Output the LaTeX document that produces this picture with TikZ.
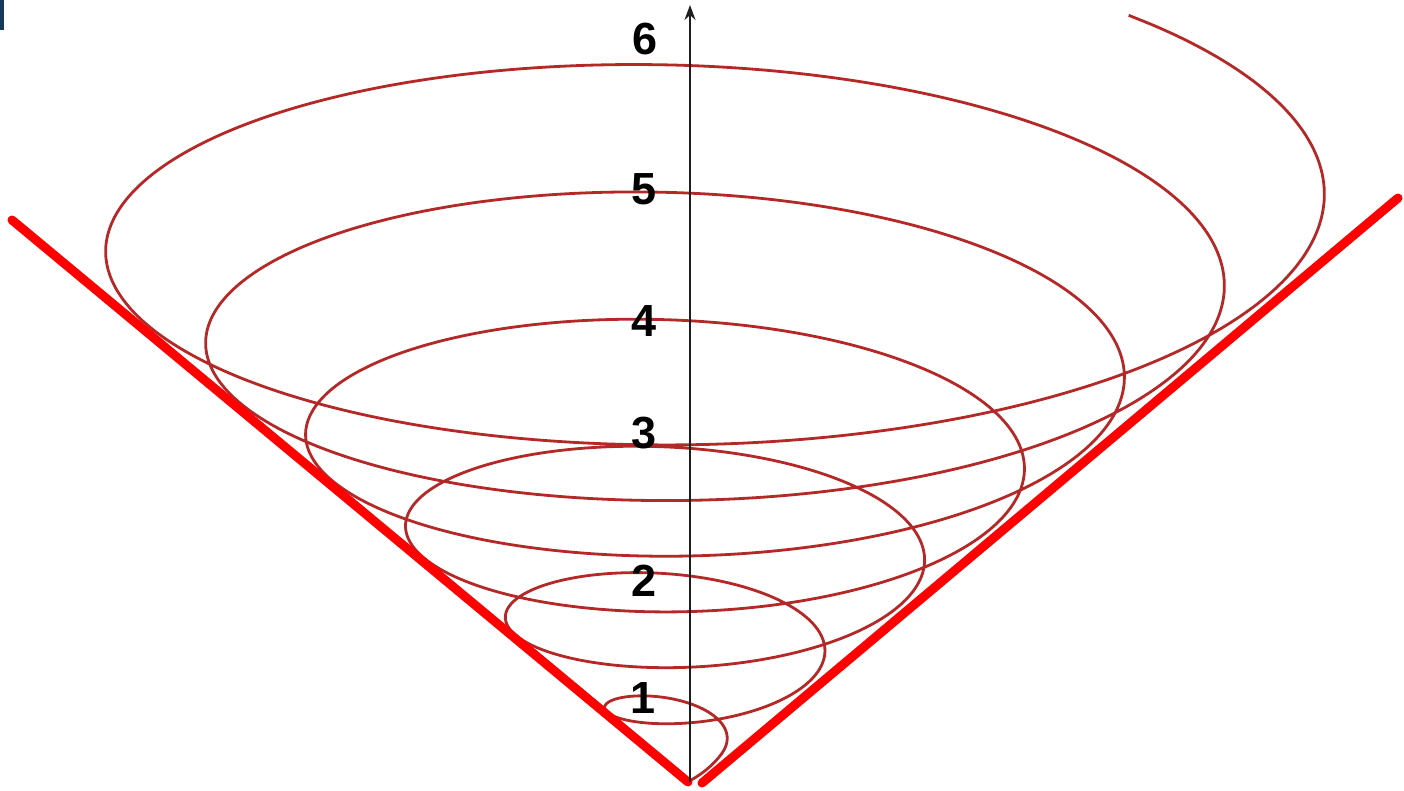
\documentclass[tikz,border=0pt]{standalone}
\usepackage{fontspec}
\newfontfamily\labfont{Liberation Sans}
\usetikzlibrary{arrows.meta}
\definecolor{spiralred}{RGB}{180,40,40}
\definecolor{conered}{RGB}{255,0,0}
\definecolor{axisgray}{RGB}{30,30,30}
\definecolor{cornerblue}{RGB}{22,58,92}
\tikzset{
  spiralline/.style={draw=spiralred, line width=2.8pt, line join=round},
  coneline/.style={draw=conered, line width=9pt, line cap=round},
  axisline/.style={draw=axisgray, line width=1.6pt, -{Stealth[length=15pt,width=11pt]}},
  numlabel/.style={inner sep=0pt, font=\labfont\fontsize{45}{45}\selectfont\bfseries, text=black}
}
\begin{document}
\begin{tikzpicture}[x=1pt,y=-1pt]
\useasboundingbox (0,0) rectangle (1404,791);
\fill[white] (0,0) rectangle (1404,791);
\fill[cornerblue] (0,0) rectangle (4,30);
% spiral
\coordinate (sv) at (691,780);
\coordinate (s0) at (724,750);
\draw[spiralline] (sv) .. controls (706,772) and (719,759) .. (s0)
  -- plot[domain=0:12*pi+0.83, samples=700, variable=\t, smooth]
  ({690+(34+15.92*\t)*cos(\t r)}, {750-14.58*\t-(14.5+5.73*\t)*sin(\t r)});
% cone
\coordinate (vl) at (688,782);
\coordinate (tl) at (12,220);
\coordinate (vr) at (702,783);
\coordinate (tr) at (1398,198);
\draw[coneline] (vl) -- (tl);
\draw[coneline] (vr) -- (tr);
% axis
\coordinate (axbot) at (690,782);
\coordinate (axtop) at (690,5);
\draw[axisline] (axbot) -- (axtop);
% labels
\node[numlabel] (l6) at (645,39) {6};
\node[numlabel] (l5) at (644,189) {5};
\node[numlabel] (l4) at (644,321) {4};
\node[numlabel] (l3) at (644,433) {3};
\node[numlabel] (l2) at (644,581) {2};
\node[numlabel] (l1) at (643,698) {1};
\end{tikzpicture}
\end{document}
